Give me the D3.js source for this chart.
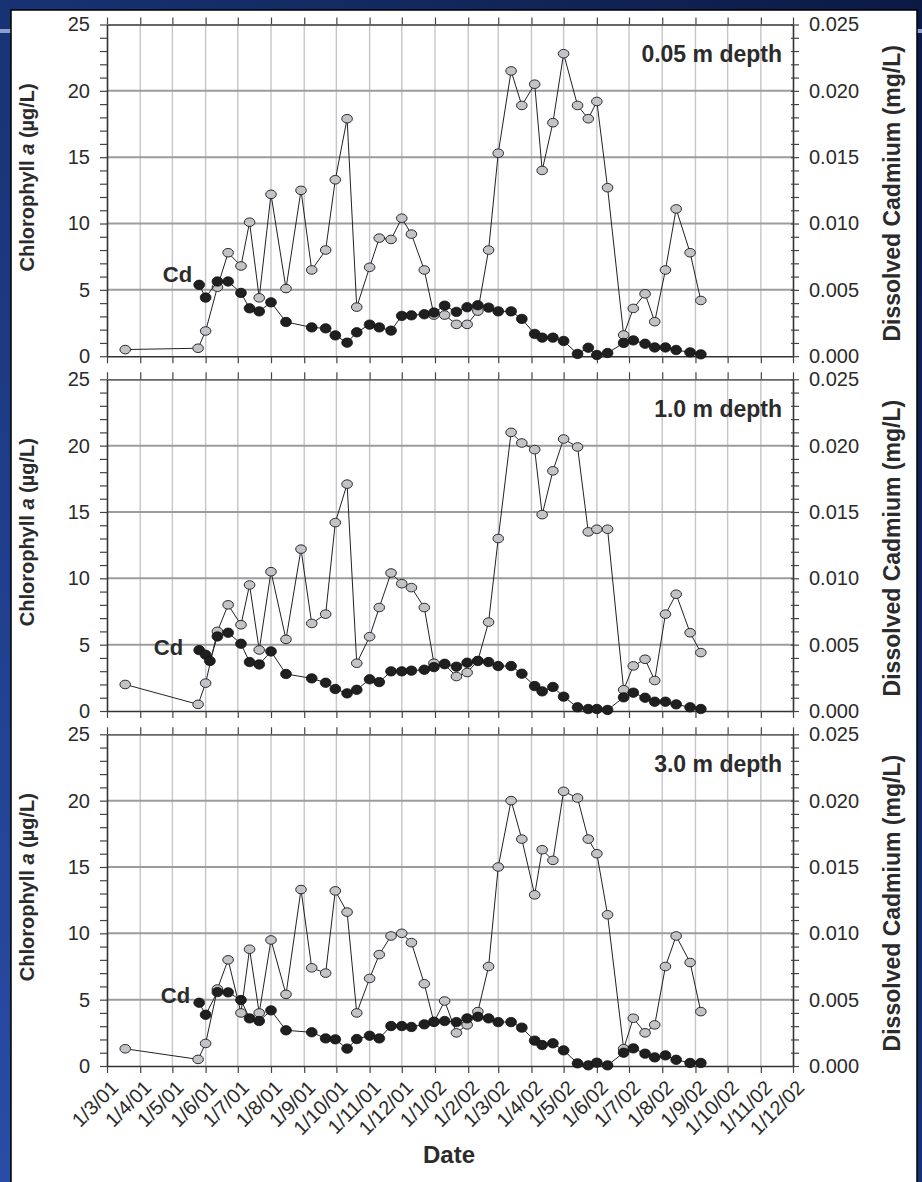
<!DOCTYPE html>
<html>
<head>
<meta charset="utf-8">
<script src="https://cdn.jsdelivr.net/npm/d3@7"></script>
<style>
  body { margin: 0; background: #13275e; }
  svg { display: block; }
</style>
</head>
<body>
<svg id="chart" width="922" height="1182"></svg>
<script>
// Sampling dates for chlorophyll a (same for all three depths)
const chlDates = [
  "2001-03-18","2001-05-25","2001-06-01","2001-06-12","2001-06-22","2001-07-04","2001-07-12",
  "2001-07-21","2001-08-01","2001-08-15","2001-08-29","2001-09-08","2001-09-21","2001-09-30",
  "2001-10-11","2001-10-20","2001-11-01","2001-11-10","2001-11-21","2001-12-01","2001-12-10",
  "2001-12-22","2001-12-31","2002-01-10","2002-01-21","2002-01-31","2002-02-10","2002-02-20",
  "2002-03-01","2002-03-13","2002-03-23","2002-04-04","2002-04-11","2002-04-21","2002-05-01",
  "2002-05-14","2002-05-24","2002-06-01","2002-06-11","2002-06-26","2002-07-05","2002-07-16",
  "2002-07-25","2002-08-04","2002-08-14","2002-08-27","2002-09-06"
];

// Chlorophyll a (µg/L)
const chl005 = [0.5,0.6,1.9,5.2,7.8,6.8,10.1,4.4,12.2,5.1,12.5,6.5,8.0,13.3,17.9,3.7,6.7,8.9,8.8,10.4,
  9.2,6.5,3.1,3.1,2.4,2.4,3.4,8.0,15.3,21.5,18.9,20.5,14.0,17.6,22.8,18.9,17.9,19.2,12.7,1.6,3.6,4.7,
  2.6,6.5,11.1,7.8,4.2];
const chl10 = [2.0,0.5,2.1,6.0,8.0,6.5,9.5,4.6,10.5,5.4,12.2,6.6,7.3,14.2,17.1,3.6,5.6,7.8,10.4,9.6,
  9.3,7.8,3.6,3.5,2.6,2.9,3.8,6.7,13.0,21.0,20.2,19.7,14.8,18.1,20.5,19.9,13.5,13.7,13.7,1.6,3.4,3.9,
  2.3,7.3,8.8,5.9,4.4];
const chl30 = [1.3,0.5,1.7,5.8,8.0,4.0,8.8,4.0,9.5,5.4,13.3,7.4,7.0,13.2,11.6,4.0,6.6,8.4,9.8,10.0,
  9.3,6.2,3.3,4.9,2.5,3.1,4.1,7.5,15.0,20.0,17.1,12.9,16.3,15.5,20.7,20.2,17.1,16.0,11.4,1.3,3.6,2.5,
  3.1,7.5,9.8,7.8,4.1];

// Sampling dates for dissolved cadmium
const cdDates005 = [
  "2001-05-26","2001-06-01","2001-06-12","2001-06-22","2001-07-04","2001-07-12","2001-07-21",
  "2001-08-01","2001-08-15","2001-09-08","2001-09-21","2001-09-30","2001-10-11","2001-10-20",
  "2001-11-01","2001-11-10","2001-11-21","2001-12-01","2001-12-10","2001-12-22","2001-12-31",
  "2002-01-10","2002-01-21","2002-01-31","2002-02-10","2002-02-20","2002-03-01","2002-03-13",
  "2002-03-23","2002-04-04","2002-04-11","2002-04-21","2002-05-01","2002-05-14","2002-05-24",
  "2002-06-01","2002-06-11","2002-06-26","2002-07-05","2002-07-16","2002-07-25","2002-08-04",
  "2002-08-14","2002-08-27","2002-09-06"
];
const cdDates10 = [
  "2001-05-26","2001-06-01","2001-06-05","2001-06-12","2001-06-22","2001-07-04","2001-07-12",
  "2001-07-21","2001-08-01","2001-08-15","2001-09-08","2001-09-21","2001-09-30","2001-10-11",
  "2001-10-20","2001-11-01","2001-11-10","2001-11-21","2001-12-01","2001-12-10","2001-12-22",
  "2001-12-31","2002-01-10","2002-01-21","2002-01-31","2002-02-10","2002-02-20","2002-03-01",
  "2002-03-13","2002-03-23","2002-04-04","2002-04-11","2002-04-21","2002-05-01","2002-05-14",
  "2002-05-24","2002-06-01","2002-06-11","2002-06-26","2002-07-05","2002-07-16","2002-07-25",
  "2002-08-04","2002-08-14","2002-08-27","2002-09-06"
];
const cdDates30 = cdDates005;

// Dissolved cadmium (mg/L)
const cd005 = [0.00538,0.00442,0.00563,0.00563,0.00477,0.00361,0.00338,0.00406,0.00258,0.00217,
  0.00210,0.00157,0.00102,0.00180,0.00238,0.00217,0.00193,0.00304,0.00308,0.00316,0.00329,0.00381,
  0.00334,0.00369,0.00384,0.00366,0.00338,0.00338,0.00281,0.00168,0.00140,0.00140,0.00115,0.00017,
  0.00064,0.00009,0.00024,0.00100,0.00119,0.00094,0.00066,0.00066,0.00047,0.00029,0.00014];
const cd10 = [0.00459,0.00424,0.00377,0.00562,0.00590,0.00507,0.00369,0.00351,0.00449,0.00279,
  0.00246,0.00213,0.00166,0.00133,0.00160,0.00239,0.00218,0.00299,0.00299,0.00304,0.00311,0.00331,
  0.00356,0.00334,0.00364,0.00377,0.00369,0.00339,0.00339,0.00281,0.00188,0.00148,0.00181,0.00108,
  0.00028,0.00015,0.00015,0.00008,0.00103,0.00138,0.00100,0.00070,0.00070,0.00050,0.00028,0.00015];
const cd30 = [0.00477,0.00386,0.00557,0.00555,0.00497,0.00359,0.00339,0.00419,0.00269,0.00254,
  0.00208,0.00201,0.00131,0.00203,0.00228,0.00208,0.00301,0.00301,0.00294,0.00314,0.00334,0.00339,
  0.00331,0.00359,0.00371,0.00359,0.00331,0.00331,0.00289,0.00191,0.00158,0.00171,0.00118,0.00020,
  0.00005,0.00025,0.00005,0.00100,0.00133,0.00093,0.00065,0.00080,0.00047,0.00023,0.00023];

const depthLabels = ["0.05 m depth", "1.0 m depth", "3.0 m depth"];
const chlTicks = d3.range(0, 26);            // every 1 µg/L, labelled every 5
const cdTicks = d3.range(0, 26).map(i => i / 1000);

const parse = d3.timeParse("%Y-%m-%d");
const FONT = "'Liberation Sans', Arial, Helvetica, sans-serif";
const TXT = "#2b2b2b";

const svg = d3.select("#chart");

// backdrop
const defs = svg.append("defs");
const bg = defs.append("linearGradient").attr("id", "bg")
  .attr("x1", "100%").attr("y1", "0%").attr("x2", "0%").attr("y2", "100%");
bg.append("stop").attr("offset", "0%").attr("stop-color", "#0b1a44");
bg.append("stop").attr("offset", "45%").attr("stop-color", "#16306f");
bg.append("stop").attr("offset", "100%").attr("stop-color", "#2a4ca6");
svg.append("rect").attr("width", 922).attr("height", 1182).attr("fill", "url(#bg)");
svg.append("rect").attr("x", 0).attr("y", 29).attr("width", 11).attr("height", 4).attr("fill", "#8d9fcc");
svg.append("rect").attr("x", 917).attr("y", 29).attr("width", 5).attr("height", 4).attr("fill", "#8d9fcc");
svg.append("rect").attr("x", 11).attr("y", 10).attr("width", 906).attr("height", 1180)
  .attr("fill", "#ffffff").attr("stroke", "#000").attr("stroke-width", 1.5);

const left = 107, right = 793;
const panelTops = [24.5, 379.3, 734.3];
const panelH = 331.7;

const x = d3.scaleTime()
  .domain([new Date(2001, 2, 1), new Date(2002, 11, 1)])
  .range([left, right]);
const months = d3.timeMonth.range(new Date(2001, 2, 1), new Date(2002, 11, 2));

const panels = [
  { chl: chl005, cdD: cdDates005, cd: cd005, label: depthLabels[0], cdOff: [-7, -2.5] },
  { chl: chl10,  cdD: cdDates10,  cd: cd10,  label: depthLabels[1], cdOff: [-16, 5] },
  { chl: chl30,  cdD: cdDates30,  cd: cd30,  label: depthLabels[2], cdOff: [-9, 0.5] }
];

panels.forEach((p, i) => {
  const top = panelTops[i], bottom = top + panelH;
  const y = d3.scaleLinear().domain([0, 25]).range([bottom, top]);
  const yCd = d3.scaleLinear().domain([0, 0.025]).range([bottom, top]);
  const g = svg.append("g");

  // vertical month grid
  g.append("g").selectAll("line").data(months.slice(1, -1)).join("line")
    .attr("x1", d => x(d)).attr("x2", d => x(d))
    .attr("y1", top).attr("y2", bottom)
    .attr("stroke", "#c5c6cc").attr("stroke-width", 1.4);

  // horizontal grid
  g.append("g").selectAll("line").data([5, 10, 15, 20]).join("line")
    .attr("x1", left).attr("x2", right)
    .attr("y1", d => y(d)).attr("y2", d => y(d))
    .attr("stroke", "#9c9c9c").attr("stroke-width", 2);

  // top and bottom month ticks
  const axTop = g.append("g").attr("transform", `translate(0,${top})`)
    .call(d3.axisTop(x).tickValues(months).tickSize(7).tickSizeOuter(0).tickFormat(""));
  const axBot = g.append("g").attr("transform", `translate(0,${bottom})`)
    .call(d3.axisBottom(x).tickValues(months).tickSize(7).tickSizeOuter(0)
      .tickFormat(i === 2 ? d3.timeFormat("%-d/%-m/%y") : ""));
  axTop.select(".domain").attr("stroke", "#666").attr("stroke-width", 1.8);
  axBot.select(".domain").attr("stroke", "#333").attr("stroke-width", 1.6);

  // left axis
  const axL = g.append("g").attr("transform", `translate(${left},0)`)
    .call(d3.axisLeft(y).tickValues(chlTicks).tickSize(7).tickSizeOuter(0).tickPadding(10)
      .tickFormat(d => d % 5 === 0 ? d : ""));
  // right axis
  const axR = g.append("g").attr("transform", `translate(${right},0)`)
    .call(d3.axisRight(yCd).tickValues(cdTicks).tickSize(6).tickSizeOuter(0).tickPadding(10)
      .tickFormat((d, k) => k % 5 === 0 ? d3.format(".3f")(d) : ""));
  axR.selectAll(".tick line").attr("x1", -2);

  [axTop, axBot, axL, axR].forEach(a => {
    a.selectAll(".tick line").attr("stroke", "#444").attr("stroke-width", 1.2);
    a.selectAll("text").attr("fill", TXT).style("font-family", FONT).style("font-size", "20px");
  });
  axL.select(".domain").attr("stroke", "#333").attr("stroke-width", 1.6);
  axR.select(".domain").attr("stroke", "#333").attr("stroke-width", 1.6);

  if (i === 2) {
    axBot.selectAll("text")
      .attr("y", null).attr("dy", null)
      .attr("text-anchor", "end")
      .attr("transform", "translate(12,23) rotate(-45)")
      .style("font-size", "20px");
  }

  // chlorophyll series
  const chlPts = chlDates.map((d, k) => ({ d: parse(d), v: p.chl[k] }));
  g.append("path").datum(chlPts)
    .attr("fill", "none").attr("stroke", "#222").attr("stroke-width", 1)
    .attr("d", d3.line().x(d => x(d.d)).y(d => y(d.v)));
  g.append("g").selectAll("ellipse").data(chlPts).join("ellipse")
    .attr("cx", d => x(d.d)).attr("cy", d => y(d.v))
    .attr("rx", 5.3).attr("ry", 4.3)
    .attr("fill", "#c2c3c7").attr("stroke", "#2a2a2a").attr("stroke-width", 1);

  // cadmium series
  const cdPts = p.cdD.map((d, k) => ({ d: parse(d), v: p.cd[k] }));
  g.append("path").datum(cdPts)
    .attr("fill", "none").attr("stroke", "#222").attr("stroke-width", 1)
    .attr("d", d3.line().x(d => x(d.d)).y(d => yCd(d.v)));
  g.append("g").selectAll("ellipse").data(cdPts).join("ellipse")
    .attr("cx", d => x(d.d)).attr("cy", d => yCd(d.v))
    .attr("rx", 5.4).attr("ry", 4.7)
    .attr("fill", "#1f1f1f").attr("stroke", "#111").attr("stroke-width", 0.8);

  // "Cd" tag beside the first cadmium sample
  g.append("text")
    .attr("x", x(cdPts[0].d) + p.cdOff[0])
    .attr("y", yCd(cdPts[0].v) + p.cdOff[1])
    .attr("text-anchor", "end")
    .attr("fill", TXT).style("font-family", FONT).style("font-size", "22px").style("font-weight", "bold")
    .text("Cd");

  // depth label
  g.append("text")
    .attr("x", 782).attr("y", top + 37.5)
    .attr("text-anchor", "end")
    .attr("fill", TXT).style("font-family", FONT).style("font-size", "23px").style("font-weight", "bold")
    .text(p.label);

  // axis titles
  const cy = (top + bottom) / 2;
  const lt = g.append("text")
    .attr("transform", `translate(34,${cy - 13}) rotate(-90)`)
    .attr("text-anchor", "middle")
    .attr("fill", TXT).style("font-family", FONT).style("font-size", "20px").style("font-weight", "bold");
  lt.append("tspan").text("Chlorophyll ");
  lt.append("tspan").style("font-style", "italic").text("a");
  lt.append("tspan").text(" (µg/L)");

  g.append("text")
    .attr("transform", `translate(900,${cy + 3}) rotate(-90)`)
    .attr("text-anchor", "middle")
    .attr("fill", TXT).style("font-family", FONT).style("font-size", "23px").style("font-weight", "bold")
    .text("Dissolved Cadmium (mg/L)");
});

// x-axis title
svg.append("text")
  .attr("x", 449).attr("y", 1163)
  .attr("text-anchor", "middle")
  .attr("fill", TXT).style("font-family", FONT).style("font-size", "24px").style("font-weight", "bold")
  .text("Date");
</script>
</body>
</html>
